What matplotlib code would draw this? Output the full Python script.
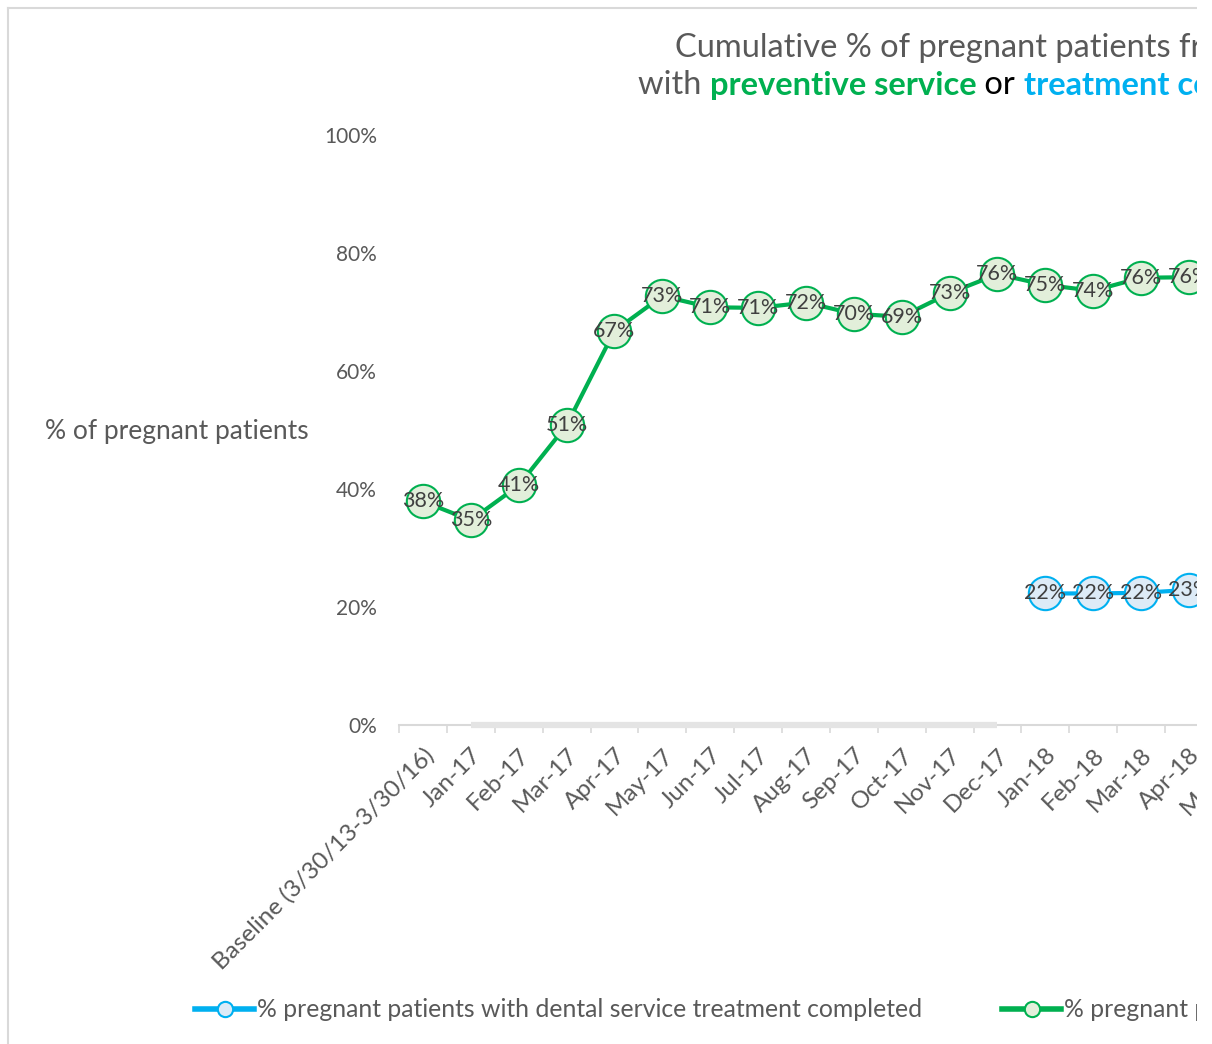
import matplotlib.pyplot as plt
from matplotlib.lines import Line2D
from matplotlib.patches import Rectangle
import numpy as np

plt.rcParams['font.family'] = ['Lato', 'DejaVu Sans']

# categories on the x axis (chart is cut off on the right after Apr-18)
categories = ['Baseline (3/30/13-3/30/16)', 'Jan-17', 'Feb-17', 'Mar-17', 'Apr-17',
              'May-17', 'Jun-17', 'Jul-17', 'Aug-17', 'Sep-17', 'Oct-17', 'Nov-17',
              'Dec-17', 'Jan-18', 'Feb-18', 'Mar-18', 'Apr-18', 'May-18']
nan = np.nan
preventive = [37.9, 34.7, 40.6, 50.8, 66.8, 72.7, 70.8, 70.7, 71.6, 69.7, 69.2,
              73.2, 76.4, 74.6, 73.6, 75.8, 75.9, nan]
treatment = [nan] * 13 + [22.3, 22.3, 22.4, 22.9, nan]
# treatment series shown as flat zero before reporting started
treatment_zero = [nan] + [0] * 12 + [nan] * 5
yticks = [0, 20, 40, 60, 80, 100]

grey = '#595959'
green, green_fill = '#00B050', '#E2EFDA'
blue, blue_fill = '#00B0F0', '#DDEBF7'

W, H = 1212, 1044
fig = plt.figure(figsize=(W / 100, H / 100), dpi=100)
n = len(categories)
step = 47.875
left = 399
ax = fig.add_axes([left / W, (H - 725) / H, n * step / W, 590 / H])

x = np.arange(n)
ax.plot(x, treatment_zero, color='#E4E4E4', lw=4.5, solid_capstyle='butt', zorder=2.6,
        clip_on=False)
ax.plot(x, preventive, color=green, lw=3, marker='o', ms=24, mfc=green_fill,
        mec=green, mew=1.5, zorder=3)
ax.plot(x, treatment, color=blue, lw=3, marker='o', ms=24, mfc=blue_fill,
        mec=blue, mew=1.5, zorder=3)

for series in (preventive, treatment):
    for i, v in enumerate(series):
        if not np.isnan(v):
            ax.text(i, v, f'{v:.0f}%', ha='center', va='center', fontsize=15.5,
                    color='#404040', zorder=4)

ax.set_xlim(-0.5, n - 0.5)
ax.set_ylim(0, 100)
ax.set_yticks(yticks)
ax.set_yticklabels([f'{t}%' for t in yticks])
ax.tick_params(axis='y', length=0, pad=16, labelsize=15, labelcolor=grey)

ax.set_xticks(x)
ax.set_xticklabels(categories, rotation=45, ha='right', rotation_mode='anchor')
ax.tick_params(axis='x', which='major', length=0, pad=14, labelsize=17.5, labelcolor=grey)
ax.set_xticks(np.arange(n + 1) - 0.5, minor=True)
ax.tick_params(axis='x', which='minor', length=6, width=1.2, color='#D9D9D9')

for s in ['top', 'right', 'left']:
    ax.spines[s].set_visible(False)
ax.spines['bottom'].set_color('#D9D9D9')
ax.spines['bottom'].set_linewidth(1.5)

fig.text(45 / W, 1 - 431 / H, '% of pregnant patients', fontsize=19, color=grey,
         ha='left', va='center')

# title, second line built from coloured pieces
fig.text(675 / W, 1 - 48 / H, 'Cumulative % of pregnant patients from baseline',
         fontsize=23.5, color=grey, ha='left', va='center')
t = fig.text(638 / W, 1 - 85 / H, 'with ', fontsize=23.5, color=grey, ha='left', va='center')
for txt, col, wt in [('preventive service', green, 'bold'), (' or ', 'black', 'normal'),
                     ('treatment completed', blue, 'bold')]:
    t = ax.annotate(txt, xy=(1, 0), xycoords=t, va='bottom', ha='left', fontsize=23.5,
                    color=col, fontweight=wt, annotation_clip=False)

h1 = Line2D([], [], color=blue, lw=4, marker='o', ms=11, mfc=blue_fill, mec=blue, mew=1.5)
h2 = Line2D([], [], color=green, lw=4, marker='o', ms=11, mfc=green_fill, mec=green, mew=1.5)
for h, lab, xpos in [(h1, '% pregnant patients with dental service treatment completed', 195),
                     (h2, '% pregnant patients with dental preventive service completed', 1002)]:
    fig.legend([h], [lab], loc='center left', bbox_to_anchor=(xpos / W, 1 - 1010 / H),
               frameon=False, fontsize=17.8, labelcolor=grey, borderpad=0, borderaxespad=0,
               handlelength=2.4, handletextpad=0.1)

# outer frame (left and top visible) and the clipped right edge
fig.add_artist(Line2D([8 / W, 8 / W], [0, 1 - 8 / H], color='#D9D9D9', lw=1.5))
fig.add_artist(Line2D([8 / W, 1], [1 - 8 / H, 1 - 8 / H], color='#D9D9D9', lw=1.5))
fig.add_artist(Rectangle((1197 / W, 0), 15 / W, 1, transform=fig.transFigure,
                         facecolor='white', edgecolor='none', zorder=100))

fig.savefig('out.png', dpi=100)
